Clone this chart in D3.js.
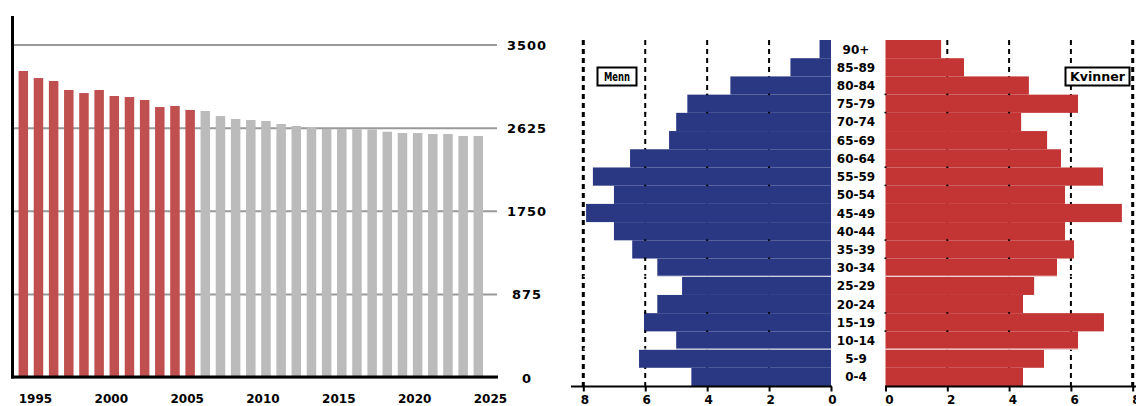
<!DOCTYPE html>
<html>
<head>
<meta charset="utf-8">
<script src="https://cdn.jsdelivr.net/npm/d3@7"></script>
<style>
  html, body { margin: 0; padding: 0; background: #fff; }
  svg { display: block; }
  text { font-family: "DejaVu Sans", sans-serif; font-weight: bold; fill: #000; }
</style>
</head>
<body>
<svg id="chart" width="1136" height="406"></svg>
<script>
// ---------- Data: population over time ----------
const years = [1994, 1995, 1996, 1997, 1998, 1999, 2000, 2001, 2002, 2003, 2004, 2005,
               2006, 2007, 2008, 2009, 2010, 2011, 2012, 2013, 2014, 2015, 2016, 2017,
               2018, 2019, 2020, 2021, 2022, 2023, 2024];
const population = [3221, 3147, 3116, 3021, 2989, 3021, 2958, 2947, 2916, 2842, 2853, 2811,
                    2800, 2747, 2716, 2705, 2695, 2663, 2642, 2632, 2612, 2610, 2608, 2606,
                    2582, 2568, 2568, 2558, 2558, 2537, 2537];
const firstProjectedYear = 2006;
const yearTicks = [1995, 2000, 2005, 2010, 2015, 2020, 2025];
const populationTicks = [0, 875, 1750, 2625, 3500];

// ---------- Data: age pyramid (percent) ----------
const ageGroups = ["0-4", "5-9", "10-14", "15-19", "20-24", "25-29", "30-34", "35-39", "40-44",
                   "45-49", "50-54", "55-59", "60-64", "65-69", "70-74", "75-79", "80-84", "85-89", "90+"];
const men =   [4.51, 6.20, 5.00, 6.04, 5.61, 4.81, 5.61, 6.42, 7.01,
               7.91, 7.01, 7.69, 6.49, 5.23, 5.00, 4.64, 3.25, 1.31, 0.37];
const women = [4.45, 5.13, 6.23, 7.07, 4.45, 4.81, 5.55, 6.10, 5.81,
               7.65, 5.81, 7.04, 5.68, 5.23, 4.39, 6.23, 4.64, 2.54, 1.80];
const percentTicks = [0, 2, 4, 6, 8];
const legendLabels = ["Menn", "Kvinner"];

const svg = d3.select("#chart");

// ================= LEFT: bar chart =================
const x = d3.scaleLinear().domain([1994, 2024]).range([23.3, 478.3]);
const y = d3.scaleLinear().domain([0, 3500]).range([377, 44.5]);
const barW = 9.5;

// gridlines + right labels
const yAxis = d3.axisRight(y).tickValues(populationTicks).tickFormat(d3.format("d"))
  .tickSizeInner(-484).tickSizeOuter(0);
const gy = svg.append("g").attr("transform", "translate(497,0)").call(yAxis);
gy.select(".domain").remove();
gy.selectAll(".tick line").attr("stroke", "#999").attr("stroke-width", 2);
gy.selectAll(".tick text")
  .attr("x", 30).attr("dy", null).attr("y", 5)
  .attr("text-anchor", "middle")
  .style("font-size", "13px").style("letter-spacing", "1px");

// bars
svg.append("g").selectAll("rect").data(years).join("rect")
  .attr("x", (d) => x(d) - barW / 2)
  .attr("width", barW)
  .attr("y", (d, i) => y(population[i]))
  .attr("height", (d, i) => y(0) - y(population[i]))
  .attr("fill", (d) => d < firstProjectedYear ? "#c05050" : "#bbbbbb");

// axis lines
svg.append("line").attr("x1", 12.5).attr("x2", 12.5).attr("y1", 16).attr("y2", 378.5)
  .attr("stroke", "#000").attr("stroke-width", 3);
svg.append("line").attr("x1", 11).attr("x2", 498).attr("y1", 377).attr("y2", 377)
  .attr("stroke", "#000").attr("stroke-width", 3);

// year labels
const xAxis = d3.axisBottom(x).tickValues(yearTicks).tickFormat(d3.format("d")).tickSize(0);
const gx = svg.append("g").attr("transform", "translate(0,377)").call(xAxis);
gx.select(".domain").remove();
gx.selectAll(".tick text").attr("dy", null).attr("y", 26).attr("x", -3.5)
  .style("font-size", "12px");

// ================= RIGHT: pyramid =================
const row = d3.scaleBand().domain(ageGroups.slice().reverse()).range([40, 386]).padding(0);
const xm = d3.scaleLinear().domain([0, 8]).range([831, 583.3]);
const xw = d3.scaleLinear().domain([0, 8]).range([885.5, 1132.7]);

// dashed gridlines
const gridG = svg.append("g");
gridG.selectAll("line.m").data(percentTicks.filter((d) => d > 0)).join("line")
  .attr("x1", (d) => xm(d)).attr("x2", (d) => xm(d)).attr("y1", 40).attr("y2", 386)
  .attr("stroke", "#000").attr("stroke-width", (d) => d === 8 ? 3 : 2).attr("stroke-dasharray", "5,4");
gridG.selectAll("line.w").data(percentTicks.filter((d) => d > 0)).join("line")
  .attr("x1", (d) => xw(d)).attr("x2", (d) => xw(d)).attr("y1", 40).attr("y2", 386)
  .attr("stroke", "#000").attr("stroke-width", (d) => d === 8 ? 3 : 2).attr("stroke-dasharray", "5,4");

// bars
svg.append("g").selectAll("rect").data(ageGroups).join("rect")
  .attr("x", (d, i) => xm(men[i]))
  .attr("width", (d, i) => xm(0) - xm(men[i]))
  .attr("y", (d) => row(d))
  .attr("height", row.bandwidth())
  .attr("fill", "#2a3884");
svg.append("g").selectAll("rect").data(ageGroups).join("rect")
  .attr("x", xw(0))
  .attr("width", (d, i) => xw(women[i]) - xw(0))
  .attr("y", (d) => row(d))
  .attr("height", row.bandwidth())
  .attr("fill", "#c33535");

// thin white separators
const sepGroups = ["25-29", "5-9"];
sepGroups.forEach((g) => {
  const yy = row(g) - 0.5;
  svg.append("line").attr("x1", xm(8)).attr("x2", xm(0)).attr("y1", yy).attr("y2", yy)
    .attr("stroke", "#fff").attr("stroke-width", 1);
  svg.append("line").attr("x1", xw(0)).attr("x2", xw(8)).attr("y1", yy).attr("y2", yy)
    .attr("stroke", "#fff").attr("stroke-width", 1);
});

// tiny tick marks on row boundaries
const markGroups = ["75-79", "70-74", "55-59", "50-54", "35-39", "30-34", "15-19", "10-14"];
const markG = svg.append("g");
markGroups.forEach((g) => {
  const yy = row(g) - 1;
  [2, 4, 6].forEach((v) => {
    markG.append("rect").attr("x", xm(v) - 1).attr("y", yy).attr("width", 2).attr("height", 1.5).attr("fill", "#000");
  });
  [0, 2, 4].forEach((v) => {
    markG.append("rect").attr("x", xw(v) - 1).attr("y", yy).attr("width", 2).attr("height", 1.5).attr("fill", "#000");
  });
});

// age labels
svg.append("g").selectAll("text").data(ageGroups).join("text")
  .attr("x", 856)
  .attr("y", (d) => row(d) + row.bandwidth() / 2 + 4.5)
  .attr("text-anchor", "middle")
  .style("font-size", "12px")
  .text((d) => d);

// bottom axes
const axM = d3.axisBottom(xm).tickValues(percentTicks).tickSizeInner(5).tickSizeOuter(0).tickFormat(d3.format("d"));
const gm = svg.append("g").attr("transform", "translate(0,386.5)").call(axM);
gm.select(".domain").attr("d", "M571,0H832").attr("stroke-width", 2);
gm.selectAll(".tick line").attr("stroke-width", 2);
gm.selectAll(".tick text").attr("dy", null).attr("y", 17).attr("x", 1).style("font-size", "12px");

const axW = d3.axisBottom(xw).tickValues(percentTicks).tickSizeInner(5).tickSizeOuter(0).tickFormat(d3.format("d"));
const gw = svg.append("g").attr("transform", "translate(0,386.5)").call(axW);
gw.select(".domain").attr("d", "M885,0H1136").attr("stroke-width", 2);
gw.selectAll(".tick line").attr("stroke-width", 2);
gw.selectAll(".tick text").attr("dy", null).attr("y", 17).attr("x", 3.3).style("font-size", "12px");

// legend boxes
const legends = [
  { label: legendLabels[0], x: 597.5, w: 39, tl: 26 },
  { label: legendLabels[1], x: 1065.5, w: 64, tl: 55 }
];
legends.forEach((l) => {
  svg.append("rect").attr("x", l.x).attr("y", 67.5).attr("width", l.w).attr("height", 18)
    .attr("fill", "#fff").attr("stroke", "#000").attr("stroke-width", 2);
  svg.append("text").attr("x", l.x + l.w / 2).attr("y", 81)
    .attr("text-anchor", "middle")
    .attr("textLength", l.tl).attr("lengthAdjust", "spacingAndGlyphs")
    .style("font-size", "12px")
    .text(l.label);
});
</script>
</body>
</html>
